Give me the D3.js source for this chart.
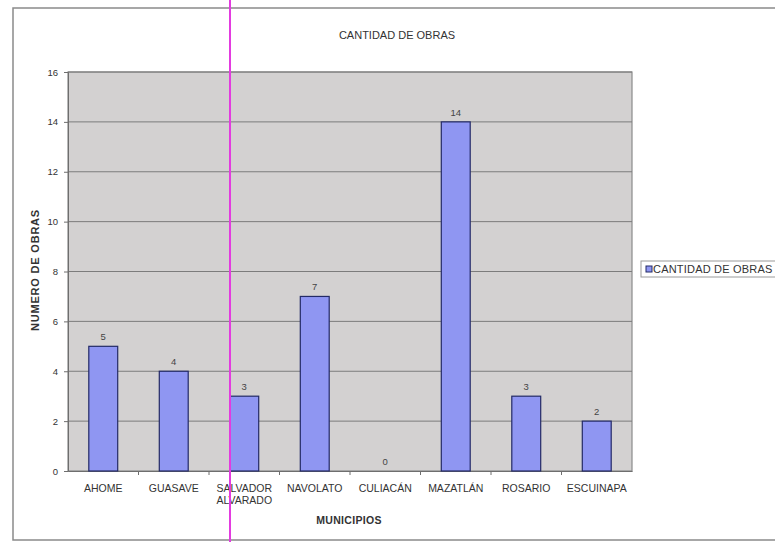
<!DOCTYPE html>
<html>
<head>
<meta charset="utf-8">
<script src="https://cdn.jsdelivr.net/npm/d3@7"></script>
<style>
  html, body { margin: 0; background: #fff; overflow: hidden; }
  svg { display: block; }
  text { font-family: "Liberation Sans", Arial, sans-serif; }
</style>
</head>
<body>
<div id="chart"></div>
<script>
// datos del gráfico
const municipios = ["AHOME", "GUASAVE", "SALVADOR ALVARADO", "NAVOLATO", "CULIACÁN", "MAZATLÁN", "ROSARIO", "ESCUINAPA"];
const obras = [5, 4, 3, 7, 0, 14, 3, 2];
const yTicks = [0, 2, 4, 6, 8, 10, 12, 14, 16];

const width = 775, height = 542;
const margin = { left: 68, right: 143, top: 72, bottom: 71 };

const svg = d3.select("#chart").append("svg")
  .attr("width", width)
  .attr("height", height);

// marco exterior
svg.append("rect")
  .attr("x", 13).attr("y", 8)
  .attr("width", 780).attr("height", 532)
  .attr("fill", "#fff")
  .attr("stroke", "#8a8a8a")
  .attr("stroke-width", 1.5);

const x = d3.scaleBand()
  .domain(municipios)
  .range([margin.left, width - margin.right])
  .paddingInner(0.59)
  .paddingOuter(0.295);

const xTicks = d3.scaleBand()
  .domain(municipios)
  .range([margin.left, width - margin.right]);

const y = d3.scaleLinear()
  .domain([0, 16])
  .range([height - margin.bottom, margin.top]);

// area de trazado
svg.append("rect")
  .attr("x", margin.left).attr("y", margin.top)
  .attr("width", width - margin.right - margin.left)
  .attr("height", height - margin.bottom - margin.top)
  .attr("fill", "#d3d1d1")
  .attr("stroke", "#8a8a8a")
  .attr("stroke-width", 1.2);

// lineas de cuadricula
svg.append("g")
  .selectAll("line")
  .data(yTicks.slice(1))
  .join("line")
  .attr("x1", margin.left).attr("x2", width - margin.right)
  .attr("y1", d => y(d)).attr("y2", d => y(d))
  .attr("stroke", "#7c7c7c")
  .attr("stroke-width", 1);

// eje y
const yAxis = svg.append("g")
  .attr("transform", `translate(${margin.left},0)`)
  .call(d3.axisLeft(y).tickValues(yTicks).tickSize(4).tickPadding(6));
yAxis.select(".domain").attr("stroke", "#6e6e6e");
yAxis.selectAll(".tick line").attr("stroke", "#6e6e6e");
yAxis.selectAll("text").attr("font-size", 9.5).attr("fill", "#333")
  .style("font-family", "Liberation Sans, Arial, sans-serif");

// eje x
const xAxis = svg.append("g")
  .attr("transform", `translate(0,${height - margin.bottom})`)
  .call(d3.axisBottom(xTicks).tickSize(0).tickFormat(""));
xAxis.select(".domain").attr("stroke", "#6e6e6e");

svg.append("g")
  .selectAll("line")
  .data(municipios.slice(1))
  .join("line")
  .attr("x1", d => xTicks(d)).attr("x2", d => xTicks(d))
  .attr("y1", height - margin.bottom).attr("y2", height - margin.bottom + 4)
  .attr("stroke", "#6e6e6e");

svg.append("g")
  .selectAll("text")
  .data(municipios)
  .join("text")
  .attr("x", d => xTicks(d) + xTicks.bandwidth() / 2)
  .attr("y", height - margin.bottom + 21)
  .attr("text-anchor", "middle")
  .attr("font-size", 10.5)
  .attr("fill", "#333")
  .each(function (d) {
    const words = d === "SALVADOR ALVARADO" ? d.split(" ") : [d];
    d3.select(this).selectAll("tspan")
      .data(words)
      .join("tspan")
      .attr("x", xTicks(d) + xTicks.bandwidth() / 2)
      .attr("dy", (w, i) => i === 0 ? 0 : 12)
      .text(w => w);
  });

// barras
svg.append("g")
  .selectAll("rect")
  .data(obras)
  .join("rect")
  .attr("x", (d, i) => x(municipios[i]))
  .attr("y", d => y(d))
  .attr("width", x.bandwidth())
  .attr("height", d => y(0) - y(d))
  .attr("fill", "#8f96f2")
  .attr("stroke", "#232a66")
  .attr("stroke-width", d => d > 0 ? 1.2 : 0);

// etiquetas de valor
svg.append("g")
  .selectAll("text")
  .data(obras)
  .join("text")
  .attr("x", (d, i) => x(municipios[i]) + x.bandwidth() / 2)
  .attr("y", d => y(d) - 6)
  .attr("text-anchor", "middle")
  .attr("font-size", 9.5)
  .attr("fill", "#444")
  .text(d => d);

// titulos
svg.append("text")
  .attr("x", 397).attr("y", 39)
  .attr("text-anchor", "middle")
  .attr("font-size", 11)
  .attr("fill", "#333")
  .text("CANTIDAD DE OBRAS");

svg.append("text")
  .attr("x", 349)
  .attr("y", 524)
  .attr("text-anchor", "middle")
  .attr("font-size", 10.5)
  .attr("font-weight", "bold")
  .attr("letter-spacing", 0.3)
  .attr("fill", "#333")
  .text("MUNICIPIOS");

svg.append("text")
  .attr("transform", `translate(39,270) rotate(-90)`)
  .attr("text-anchor", "middle")
  .attr("font-size", 11)
  .attr("font-weight", "bold")
  .attr("letter-spacing", 0.8)
  .attr("fill", "#333")
  .text("NUMERO DE OBRAS");

// leyenda
const legend = svg.append("g").attr("transform", "translate(641,261)");
legend.append("rect")
  .attr("width", 140).attr("height", 16)
  .attr("fill", "#fff")
  .attr("stroke", "#9a9a9a");
legend.append("rect")
  .attr("x", 5).attr("y", 5)
  .attr("width", 6).attr("height", 6)
  .attr("fill", "#8f96f2")
  .attr("stroke", "#232a66");
legend.append("text")
  .attr("x", 12).attr("y", 12)
  .attr("font-size", 11)
  .attr("letter-spacing", 0.2)
  .attr("fill", "#333")
  .text("CANTIDAD DE OBRAS");

// linea magenta del escaneo
svg.append("line")
  .attr("x1", 230).attr("x2", 230)
  .attr("y1", 0).attr("y2", height)
  .attr("stroke", "#e33be0")
  .attr("stroke-width", 2);
</script>
</body>
</html>
